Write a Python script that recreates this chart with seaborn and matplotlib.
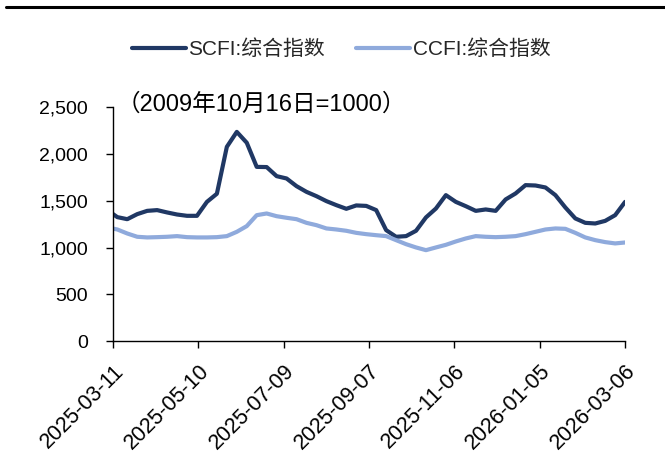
import numpy as np
import pandas as pd
import matplotlib
matplotlib.use("Agg")
import matplotlib.pyplot as plt
import matplotlib.dates as mdates
from matplotlib.lines import Line2D
import seaborn as sns

# ---- data (weekly, Fridays) ----
dates = pd.date_range("2025-03-07", "2026-03-06", freq="7D")
scfi = [1400, 1325, 1303, 1357, 1392, 1400, 1375, 1353, 1339, 1339,
        1488, 1575, 2076, 2236, 2120, 1862, 1860, 1763, 1738, 1656,
        1595, 1549, 1496, 1453, 1414, 1450, 1445, 1400, 1186, 1115,
        1122, 1179, 1322, 1417, 1560, 1488, 1442, 1392, 1407, 1392,
        1514, 1578, 1667, 1663, 1642, 1560, 1428, 1311, 1264, 1257,
        1285, 1346, 1488]
ccfi = [1215, 1193, 1150, 1115, 1108, 1111, 1115, 1122, 1111, 1108,
        1108, 1111, 1122, 1168, 1229, 1346, 1364, 1335, 1318, 1303,
        1264, 1239, 1204, 1193, 1179, 1157, 1143, 1132, 1122, 1079,
        1036, 1001, 972, 1001, 1029, 1065, 1097, 1122, 1115, 1111,
        1115, 1122, 1143, 1168, 1193, 1204, 1200, 1157, 1108, 1079,
        1058, 1044, 1054]
series_names = ["SCFI:综合指数", "CCFI:综合指数"]
colors = ["#203864", "#8FAADC"]
x_start, x_end = "2025-03-11", "2026-03-06"
tick_dates = pd.date_range(x_start, periods=7, freq="60D")
y_ticks = [0, 500, 1000, 1500, 2000, 2500]
note = "（2009年10月16日=1000）"

df = pd.DataFrame({"date": list(dates) * 2,
                   "value": scfi + ccfi,
                   "series": [series_names[0]] * len(dates) + [series_names[1]] * len(dates)})

sns.set_theme(style="white")
plt.rcParams["font.family"] = ["Liberation Sans", "Noto Sans CJK SC", "DejaVu Sans"]

fig = plt.figure(figsize=(6.65, 4.66), dpi=100)
ax = fig.add_axes([0.170, 0.268, 0.770, 0.502])

sns.lineplot(data=df, x="date", y="value", hue="series", hue_order=series_names,
             palette=colors, linewidth=3.0, ax=ax, legend=False,
             solid_joinstyle="round", solid_capstyle="round")

ax.set_xlim(pd.Timestamp(x_start), pd.Timestamp(x_end))
ax.set_ylim(0, 2500)
ax.set_xticks(tick_dates)
ax.xaxis.set_major_formatter(mdates.DateFormatter("%Y-%m-%d"))
ax.set_yticks(y_ticks)
ax.set_yticklabels([f"{v:,}" for v in y_ticks])
ax.set_xlabel("")
ax.set_ylabel("")

for s in ["top", "right"]:
    ax.spines[s].set_visible(False)
for s in ["left", "bottom"]:
    ax.spines[s].set_color("#000000")
    ax.spines[s].set_linewidth(1.0)

ax.tick_params(axis="both", which="major", direction="out", length=5, width=1,
               color="#000000", labelcolor="#000000", bottom=True, left=True)
ax.tick_params(axis="y", pad=13, labelsize=14)
ax.tick_params(axis="x", pad=9, labelsize=15.5)
for lab in ax.get_xticklabels():
    lab.set_rotation(45)
    lab.set_ha("right")
    lab.set_rotation_mode("anchor")

# legend
handles = [Line2D([0], [0], color=c, lw=3.0) for c in colors]
fig.legend(handles, series_names, loc="center", bbox_to_anchor=(0.513, 1 - 49 / 466),
           ncol=2, frameon=False, fontsize=15, handlelength=2.6, handletextpad=0.1,
           columnspacing=1.5)

# note text
fig.text(0.175, 1 - 104 / 466, note, fontsize=17, va="center", ha="left", color="#000000")

# top border line
fig.add_artist(Line2D([0.009, 1.0], [1 - 7 / 466, 1 - 7 / 466], color="#000000",
                      lw=2.2, transform=fig.transFigure))

fig.savefig("out.png", dpi=100)
